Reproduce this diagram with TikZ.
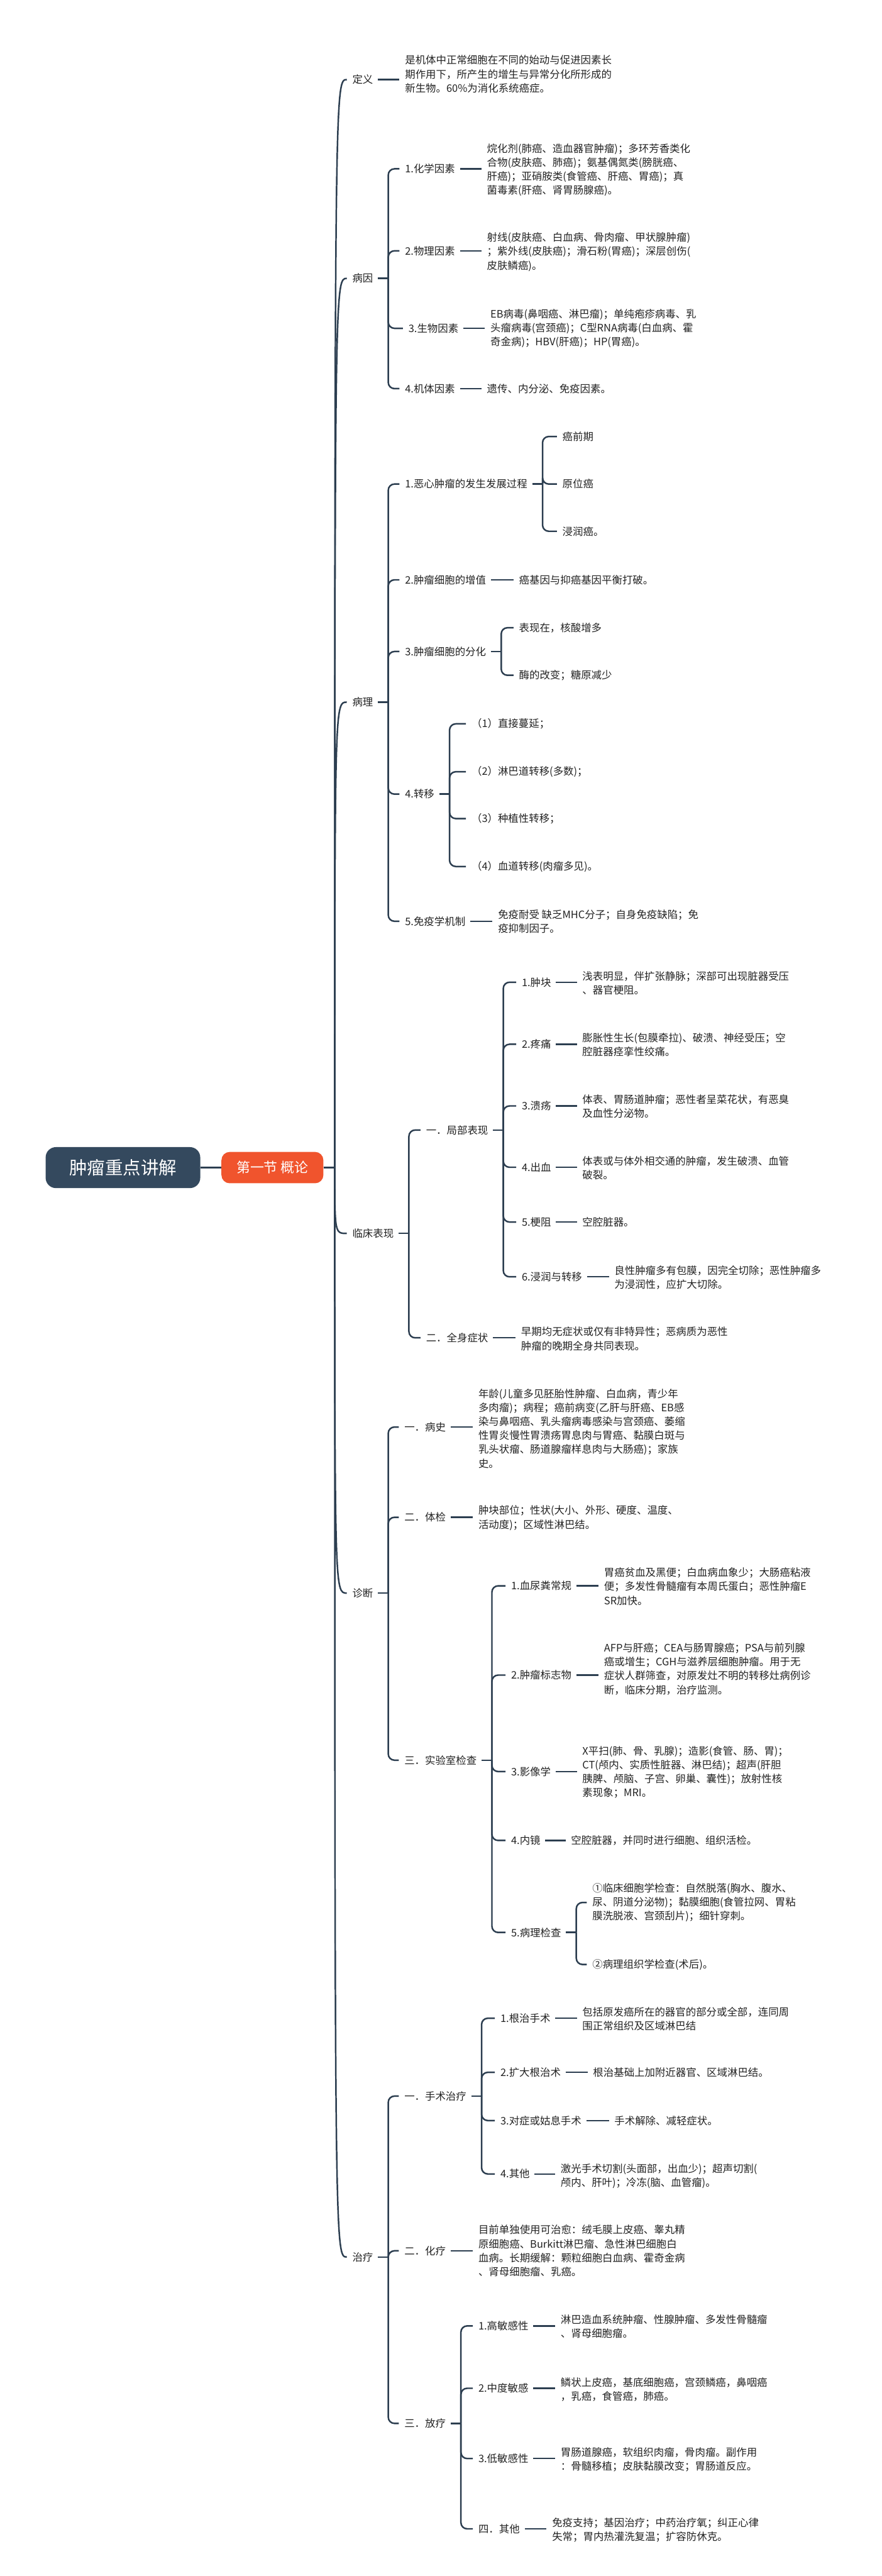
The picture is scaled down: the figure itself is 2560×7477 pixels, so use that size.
\documentclass[tikz,border=0pt]{standalone}
\usepackage{fontspec}
\setmainfont{Noto Sans CJK SC}
\usetikzlibrary{calc}
\definecolor{lineC}{RGB}{44,62,80}
\definecolor{rootC}{RGB}{52,73,94}
\definecolor{secC}{RGB}{240,84,45}
\definecolor{textC}{RGB}{34,34,34}
\newcommand\bodyfont{\fontsize{30}{40.5}\selectfont}
\begin{document}
\begin{tikzpicture}[x=1pt,y=-1pt,
  lbl/.style={anchor=west,inner sep=0pt,font=\bodyfont,text=textC},
  txt/.style={lbl,align=left},
  link/.style={draw=lineC,line width=4.5pt,rounded corners=18pt},
  trunk/.style={draw=lineC,line width=4.5pt}]
\useasboundingbox (0,0) rectangle (2560,7477);

% Root and section
\draw (357,3389) node (root) [fill=rootC,rounded corners=30pt,minimum width=449pt,minimum height=119pt,text=white,font=\fontsize{52}{60}\selectfont] {肿瘤重点讲解};
\draw (791,3389) node (jie1) [fill=secC,rounded corners=24pt,minimum width=296pt,minimum height=91pt,text=white,font=\fontsize{40}{48}\selectfont] {第一节 概论};
\coordinate (hub) at (972,3389);

% Text Node: level one
\draw (1023,231) node (dingyi) [lbl] {定义};
\draw (1023,808) node (bingyin) [lbl] {病因};
\draw (1023,2038) node (bingli) [lbl] {病理};
\draw (1023,3580) node (lc) [lbl] {临床表现};
\draw (1023,4624) node (zd) [lbl] {诊断};
\draw (1023,6551) node (zl) [lbl] {治疗};

% Text Node: 定义
\draw (1176,215) node (dingyiT) [txt] {是机体中正常细胞在不同的始动与促进因素长\\期作用下，所产生的增生与异常分化所形成的\\新生物。60\%为消化系统癌症。};

% Text Node: 病因
\draw (1176,490) node (hx) [lbl] {1.化学因素};
\draw (1414,493) node (hxT) [txt] {烷化剂(肺癌、造血器官肿瘤)；多环芳香类化\\合物(皮肤癌、肺癌)；氨基偶氮类(膀胱癌、\\肝癌)；亚硝胺类(食管癌、肝癌、胃癌)；真\\菌毒素(肝癌、肾胃肠腺癌)。};
\draw (1176,728) node (wl) [lbl] {2.物理因素};
\draw (1414,731) node (wlT) [txt] {射线(皮肤癌、白血病、骨肉瘤、甲状腺肿瘤)\\；紫外线(皮肤癌)；滑石粉(胃癌)；深层创伤(\\皮肤鳞癌)。};
\draw (1186,953) node (sw) [lbl] {3.生物因素};
\draw (1424,953) node (swT) [txt] {EB病毒(鼻咽癌、淋巴瘤)；单纯疱疹病毒、乳\\头瘤病毒(宫颈癌)；C型RNA病毒(白血病、霍\\奇金病)；HBV(肝癌)；HP(胃癌)。};
\draw (1176,1128) node (jt) [lbl] {4.机体因素};
\draw (1414,1128) node (jtT) [lbl] {遗传、内分泌、免疫因素。};

% Text Node: 病理
\draw (1176,1405) node (fz) [lbl] {1.恶心肿瘤的发生发展过程};
\draw (1633,1267) node (aqq) [lbl] {癌前期};
\draw (1633,1405) node (ywa) [lbl] {原位癌};
\draw (1633,1542) node (jra) [lbl] {浸润癌。};
\draw (1176,1683) node (zz) [lbl] {2.肿瘤细胞的增值};
\draw (1507,1683) node (zzT) [lbl] {癌基因与抑癌基因平衡打破。};
\draw (1176,1891) node (fh) [lbl] {3.肿瘤细胞的分化};
\draw (1507,1822) node (fh1) [lbl] {表现在，核酸增多};
\draw (1507,1960) node (fh2) [lbl] {酶的改变；糖原减少};
\draw (1176,2305) node (zy) [lbl] {4.转移};
\draw (1369,2101) node (zy1) [lbl] {（1）直接蔓延；};
\draw (1369,2240) node (zy2) [lbl] {（2）淋巴道转移(多数)；};
\draw (1369,2376) node (zy3) [lbl] {（3）种植性转移；};
\draw (1369,2515) node (zy4) [lbl] {（4）血道转移(肉瘤多见)。};
\draw (1176,2674) node (my) [lbl] {5.免疫学机制};
\draw (1446,2675) node (myT) [txt] {免疫耐受 缺乏MHC分子；自身免疫缺陷；免\\疫抑制因子。};

% Text Node: 临床表现
\draw (1237,3280) node (jb) [lbl] {一．局部表现};
\draw (1515,2851) node (jb1) [lbl] {1.肿块};
\draw (1691,2854) node (jb1T) [txt] {浅表明显，伴扩张静脉；深部可出现脏器受压\\、器官梗阻。};
\draw (1515,3031) node (jb2) [lbl] {2.疼痛};
\draw (1691,3033) node (jb2T) [txt] {膨胀性生长(包膜牵拉)、破溃、神经受压；空\\腔脏器痉挛性绞痛。};
\draw (1515,3210) node (jb3) [lbl] {3.溃疡};
\draw (1691,3211) node (jb3T) [txt] {体表、胃肠道肿瘤；恶性者呈菜花状，有恶臭\\及血性分泌物。};
\draw (1515,3388) node (jb4) [lbl] {4.出血};
\draw (1691,3390) node (jb4T) [txt] {体表或与体外相交通的肿瘤，发生破溃、血管\\破裂。};
\draw (1515,3547) node (jb5) [lbl] {5.梗阻};
\draw (1691,3547) node (jb5T) [lbl] {空腔脏器。};
\draw (1515,3706) node (jb6) [lbl] {6.浸润与转移};
\draw (1784,3708) node (jb6T) [txt] {良性肿瘤多有包膜，因完全切除；恶性肿瘤多\\为浸润性，应扩大切除。};
\draw (1237,3883) node (qs) [lbl] {二．全身症状};
\draw (1513,3886) node (qsT) [txt] {早期均无症状或仅有非特异性；恶病质为恶性\\肿瘤的晚期全身共同表现。};

% Text Node: 诊断
\draw (1174,4142) node (bs) [lbl] {一．病史};
\draw (1389,4146) node (bsT) [txt] {年龄(儿童多见胚胎性肿瘤、白血病，青少年\\多肉瘤)；病程；癌前病变(乙肝与肝癌、EB感\\染与鼻咽癌、乳头瘤病毒感染与宫颈癌、萎缩\\性胃炎慢性胃溃疡胃息肉与胃癌、黏膜白斑与\\乳头状瘤、肠道腺瘤样息肉与大肠癌)；家族\\史。};
\draw (1174,4404) node (tj) [lbl] {二．体检};
\draw (1389,4406) node (tjT) [txt] {肿块部位；性状(大小、外形、硬度、温度、\\活动度)；区域性淋巴结。};
\draw (1174,5109) node (sy) [lbl] {三．实验室检查};
\draw (1484,4603) node (sy1) [lbl] {1.血尿粪常规};
\draw (1754,4605) node (sy1T) [txt] {胃癌贫血及黑便；白血病血象少；大肠癌粘液\\便；多发性骨髓瘤有本周氏蛋白；恶性肿瘤E\\SR加快。};
\draw (1484,4862) node (sy2) [lbl] {2.肿瘤标志物};
\draw (1754,4844) node (sy2T) [txt] {AFP与肝癌；CEA与肠胃腺癌；PSA与前列腺\\癌或增生；CGH与滋养层细胞肿瘤。用于无\\症状人群筛查，对原发灶不明的转移灶病例诊\\断，临床分期，治疗监测。};
\draw (1484,5142) node (sy3) [lbl] {3.影像学};
\draw (1691,5144) node (sy3T) [txt] {X平扫(肺、骨、乳腺)；造影(食管、肠、胃)；\\CT(颅内、实质性脏器、淋巴结)；超声(肝胆\\胰脾、颅脑、子宫、卵巢、囊性)；放射性核\\素现象；MRI。};
\draw (1484,5342) node (sy4) [lbl] {4.内镜};
\draw (1658,5342) node (sy4T) [lbl] {空腔脏器，并同时进行细胞、组织活检。};
\draw (1484,5609) node (sy5) [lbl] {5.病理检查};
\draw (1720,5522) node (sy51) [txt] {①临床细胞学检查：自然脱落(胸水、腹水、\\尿、阴道分泌物)；黏膜细胞(食管拉网、胃粘\\膜洗脱液、宫颈刮片)；细针穿刺。};
\draw (1720,5702) node (sy52) [lbl] {②病理组织学检查(术后)。};

% Text Node: 治疗
\draw (1174,6084) node (ss) [lbl] {一．手术治疗};
\draw (1453,5858) node (ss1) [lbl] {1.根治手术};
\draw (1691,5860) node (ss1T) [txt] {包括原发癌所在的器官的部分或全部，连同周\\围正常组织及区域淋巴结};
\draw (1453,6015) node (ss2) [lbl] {2.扩大根治术};
\draw (1722,6015) node (ss2T) [lbl] {根治基础上加附近器官、区域淋巴结。};
\draw (1453,6155) node (ss3) [lbl] {3.对症或姑息手术};
\draw (1784,6155) node (ss3T) [lbl] {手术解除、减轻症状。};
\draw (1453,6310) node (ss4) [lbl] {4.其他};
\draw (1628,6316) node (ss4T) [txt] {激光手术切割(头面部，出血少)；超声切割(\\颅内、肝叶)；冷冻(脑、血管瘤)。};
\draw (1174,6533) node (hl) [lbl] {二．化疗};
\draw (1389,6533) node (hlT) [txt] {目前单独使用可治愈：绒毛膜上皮癌、睾丸精\\原细胞癌、Burkitt淋巴瘤、急性淋巴细胞白\\血病。长期缓解：颗粒细胞白血病、霍奇金病\\、肾母细胞瘤、乳癌。};
\draw (1174,7034) node (fl) [lbl] {三．放疗};
\draw (1389,6751) node (fl1) [lbl] {1.高敏感性};
\draw (1628,6753) node (fl1T) [txt] {淋巴造血系统肿瘤、性腺肿瘤、多发性骨髓瘤\\、肾母细胞瘤。};
\draw (1389,6932) node (fl2) [lbl] {2.中度敏感};
\draw (1628,6936) node (fl2T) [txt] {鳞状上皮癌，基底细胞癌，宫颈鳞癌，鼻咽癌\\，乳癌，食管癌，肺癌。};
\draw (1389,7136) node (fl3) [lbl] {3.低敏感性};
\draw (1628,7139) node (fl3T) [txt] {胃肠道腺癌，软组织肉瘤，骨肉瘤。副作用\\：骨髓移植；皮肤黏膜改变；胃肠道反应。};
\draw (1389,7340) node (fl4) [lbl] {四．其他};
\draw (1603,7344) node (fl4T) [txt] {免疫支持；基因治疗；中药治疗氧；纠正心律\\失常；胃内热灌洗复温；扩容防休克。};

% Curves: trunk
\draw [trunk] (root.east) -- (jie1.west);
\draw [trunk] (jie1.east) -- (hub);
\draw [trunk] (hub) .. controls (hub |- dingyi.west) .. ($(dingyi.west)+(-16,0)$);
\draw [trunk] (hub) .. controls (hub |- bingyin.west) .. ($(bingyin.west)+(-16,0)$);
\draw [trunk] (hub) .. controls (hub |- bingli.west) .. ($(bingli.west)+(-16,0)$);
\draw [trunk] (hub) .. controls (hub |- lc.west) .. ($(lc.west)+(-16,0)$);
\draw [trunk] (hub) .. controls (hub |- zd.west) .. ($(zd.west)+(-16,0)$);
\draw [trunk] (hub) .. controls (hub |- zl.west) .. ($(zl.west)+(-16,0)$);

% Straight Lines: one child
\draw [link] ($(dingyi.east)+(14,0)$) -- ($(dingyi.east -| dingyiT.west)+(-16,0)$);
\draw [link] ($(hx.east)+(14,0)$) -- ($(hx.east -| hxT.west)+(-16,0)$);
\draw [link] ($(wl.east)+(14,0)$) -- ($(wl.east -| wlT.west)+(-16,0)$);
\draw [link] ($(sw.east)+(14,0)$) -- ($(sw.east -| swT.west)+(-16,0)$);
\draw [link] ($(jt.east)+(14,0)$) -- ($(jt.east -| jtT.west)+(-16,0)$);
\draw [link] ($(zz.east)+(14,0)$) -- ($(zz.east -| zzT.west)+(-16,0)$);
\draw [link] ($(my.east)+(14,0)$) -- ($(my.east -| myT.west)+(-16,0)$);
\draw [link] ($(jb1.east)+(14,0)$) -- ($(jb1.east -| jb1T.west)+(-16,0)$);
\draw [link] ($(jb2.east)+(14,0)$) -- ($(jb2.east -| jb2T.west)+(-16,0)$);
\draw [link] ($(jb3.east)+(14,0)$) -- ($(jb3.east -| jb3T.west)+(-16,0)$);
\draw [link] ($(jb4.east)+(14,0)$) -- ($(jb4.east -| jb4T.west)+(-16,0)$);
\draw [link] ($(jb5.east)+(14,0)$) -- ($(jb5.east -| jb5T.west)+(-16,0)$);
\draw [link] ($(jb6.east)+(14,0)$) -- ($(jb6.east -| jb6T.west)+(-16,0)$);
\draw [link] ($(qs.east)+(14,0)$) -- ($(qs.east -| qsT.west)+(-16,0)$);
\draw [link] ($(bs.east)+(14,0)$) -- ($(bs.east -| bsT.west)+(-16,0)$);
\draw [link] ($(tj.east)+(14,0)$) -- ($(tj.east -| tjT.west)+(-16,0)$);
\draw [link] ($(sy1.east)+(14,0)$) -- ($(sy1.east -| sy1T.west)+(-16,0)$);
\draw [link] ($(sy2.east)+(14,0)$) -- ($(sy2.east -| sy2T.west)+(-16,0)$);
\draw [link] ($(sy3.east)+(14,0)$) -- ($(sy3.east -| sy3T.west)+(-16,0)$);
\draw [link] ($(sy4.east)+(14,0)$) -- ($(sy4.east -| sy4T.west)+(-16,0)$);
\draw [link] ($(ss1.east)+(14,0)$) -- ($(ss1.east -| ss1T.west)+(-16,0)$);
\draw [link] ($(ss2.east)+(14,0)$) -- ($(ss2.east -| ss2T.west)+(-16,0)$);
\draw [link] ($(ss3.east)+(14,0)$) -- ($(ss3.east -| ss3T.west)+(-16,0)$);
\draw [link] ($(ss4.east)+(14,0)$) -- ($(ss4.east -| ss4T.west)+(-16,0)$);
\draw [link] ($(hl.east)+(14,0)$) -- ($(hl.east -| hlT.west)+(-16,0)$);
\draw [link] ($(fl1.east)+(14,0)$) -- ($(fl1.east -| fl1T.west)+(-16,0)$);
\draw [link] ($(fl2.east)+(14,0)$) -- ($(fl2.east -| fl2T.west)+(-16,0)$);
\draw [link] ($(fl3.east)+(14,0)$) -- ($(fl3.east -| fl3T.west)+(-16,0)$);
\draw [link] ($(fl4.east)+(14,0)$) -- ($(fl4.east -| fl4T.west)+(-16,0)$);

% Straight Lines: 病因
\draw [link] ($(bingyin.east)+(14,0)$) -- ++(30,0) coordinate (byS);
\draw [link] (byS) |- ($(hx.west)+(-16,0)$);
\draw [link] (byS) |- ($(wl.west)+(-16,0)$);
\draw [link] (byS) |- ($(sw.west)+(-16,0)$);
\draw [link] (byS) |- ($(jt.west)+(-16,0)$);

% Straight Lines: 病理
\draw [link] ($(bingli.east)+(14,0)$) -- ++(30,0) coordinate (blS);
\draw [link] (blS) |- ($(fz.west)+(-16,0)$);
\draw [link] (blS) |- ($(zz.west)+(-16,0)$);
\draw [link] (blS) |- ($(fh.west)+(-16,0)$);
\draw [link] (blS) |- ($(zy.west)+(-16,0)$);
\draw [link] (blS) |- ($(my.west)+(-16,0)$);
\draw [link] ($(fz.east)+(14,0)$) -- ++(30,0) coordinate (fzS);
\draw [link] (fzS) |- ($(aqq.west)+(-16,0)$);
\draw [link] (fzS) |- ($(ywa.west)+(-16,0)$);
\draw [link] (fzS) |- ($(jra.west)+(-16,0)$);
\draw [link] ($(fh.east)+(14,0)$) -- ++(30,0) coordinate (fhS);
\draw [link] (fhS) |- ($(fh1.west)+(-16,0)$);
\draw [link] (fhS) |- ($(fh2.west)+(-16,0)$);
\draw [link] ($(zy.east)+(14,0)$) -- ++(30,0) coordinate (zyS);
\draw [link] (zyS) |- ($(zy1.west)+(-16,0)$);
\draw [link] (zyS) |- ($(zy2.west)+(-16,0)$);
\draw [link] (zyS) |- ($(zy3.west)+(-16,0)$);
\draw [link] (zyS) |- ($(zy4.west)+(-16,0)$);

% Straight Lines: 临床表现
\draw [link] ($(lc.east)+(14,0)$) -- ++(30,0) coordinate (lcS);
\draw [link] (lcS) |- ($(jb.west)+(-16,0)$);
\draw [link] (lcS) |- ($(qs.west)+(-16,0)$);
\draw [link] ($(jb.east)+(14,0)$) -- ++(30,0) coordinate (jbS);
\draw [link] (jbS) |- ($(jb1.west)+(-16,0)$);
\draw [link] (jbS) |- ($(jb2.west)+(-16,0)$);
\draw [link] (jbS) |- ($(jb3.west)+(-16,0)$);
\draw [link] (jbS) |- ($(jb4.west)+(-16,0)$);
\draw [link] (jbS) |- ($(jb5.west)+(-16,0)$);
\draw [link] (jbS) |- ($(jb6.west)+(-16,0)$);

% Straight Lines: 诊断
\draw [link] ($(zd.east)+(14,0)$) -- ++(30,0) coordinate (zdS);
\draw [link] (zdS) |- ($(bs.west)+(-16,0)$);
\draw [link] (zdS) |- ($(tj.west)+(-16,0)$);
\draw [link] (zdS) |- ($(sy.west)+(-16,0)$);
\draw [link] ($(sy.east)+(14,0)$) -- ++(30,0) coordinate (syS);
\draw [link] (syS) |- ($(sy1.west)+(-16,0)$);
\draw [link] (syS) |- ($(sy2.west)+(-16,0)$);
\draw [link] (syS) |- ($(sy3.west)+(-16,0)$);
\draw [link] (syS) |- ($(sy4.west)+(-16,0)$);
\draw [link] (syS) |- ($(sy5.west)+(-16,0)$);
\draw [link] ($(sy5.east)+(14,0)$) -- ++(30,0) coordinate (sy5S);
\draw [link] (sy5S) |- ($(sy51.west)+(-16,0)$);
\draw [link] (sy5S) |- ($(sy52.west)+(-16,0)$);

% Straight Lines: 治疗
\draw [link] ($(zl.east)+(14,0)$) -- ++(30,0) coordinate (zlS);
\draw [link] (zlS) |- ($(ss.west)+(-16,0)$);
\draw [link] (zlS) |- ($(hl.west)+(-16,0)$);
\draw [link] (zlS) |- ($(fl.west)+(-16,0)$);
\draw [link] ($(ss.east)+(14,0)$) -- ++(30,0) coordinate (ssS);
\draw [link] (ssS) |- ($(ss1.west)+(-16,0)$);
\draw [link] (ssS) |- ($(ss2.west)+(-16,0)$);
\draw [link] (ssS) |- ($(ss3.west)+(-16,0)$);
\draw [link] (ssS) |- ($(ss4.west)+(-16,0)$);
\draw [link] ($(fl.east)+(14,0)$) -- ++(30,0) coordinate (flS);
\draw [link] (flS) |- ($(fl1.west)+(-16,0)$);
\draw [link] (flS) |- ($(fl2.west)+(-16,0)$);
\draw [link] (flS) |- ($(fl3.west)+(-16,0)$);
\draw [link] (flS) |- ($(fl4.west)+(-16,0)$);

\end{tikzpicture}
\end{document}
